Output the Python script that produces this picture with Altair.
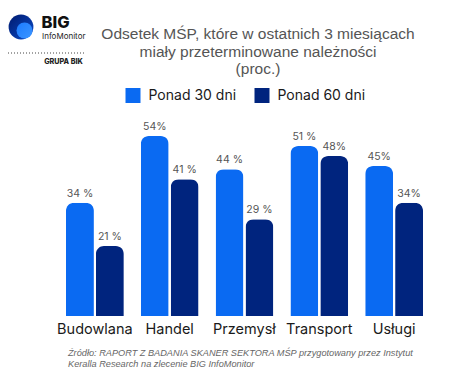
import altair as alt
import pandas as pd

# Share of SMEs with overdue receivables, by sector
categories = ["Budowlana", "Handel", "Przemysł", "Transport", "Usługi"]
series = ["Ponad 30 dni", "Ponad 60 dni"]
over_30 = [34, 54, 44, 51, 45]
over_60 = [21, 41, 29, 48, 34]
# spacing between number and percent sign as printed on each label
sep_30 = [" ", "", " ", " ", ""]
sep_60 = [" ", " ", " ", "", ""]

colors = ["#0A6AF2", "#00247E"]

title_lines = [
    "Odsetek MŚP, które w ostatnich 3 miesiącach",
    "miały przeterminowane należności",
    "(proc.)",
]
source_lines = [
    "Źródło: RAPORT Z BADANIA SKANER SEKTORA MŚP przygotowany przez Instytut",
    "Keralla Research na zlecenie BIG InfoMonitor",
]

rows = []
for i, c in enumerate(categories):
    rows.append({"cat": c, "series": series[0], "value": over_30[i],
                 "label": f"{over_30[i]}{sep_30[i]}%"})
    rows.append({"cat": c, "series": series[1], "value": over_60[i],
                 "label": f"{over_60[i]}{sep_60[i]}%"})
df = pd.DataFrame(rows)

# plot area origin inside the page
OX, OY = 57.5, 136
W, H = 374, 180

x_enc = alt.X("cat:N", sort=categories,
              scale=alt.Scale(paddingInner=0.227, paddingOuter=0.1135),
              axis=alt.Axis(title=None, labelAngle=0, domain=False, ticks=False,
                            labelFontSize=14.5, labelFont="Inter", labelColor="#1a1a1a",
                            labelPadding=6, labelFontWeight="normal"))
xo_enc = alt.XOffset("series:N", sort=series,
                     scale=alt.Scale(paddingInner=0.0667, paddingOuter=0))
y_enc = alt.Y("value:Q", scale=alt.Scale(domain=[0, 54], nice=False), axis=None)

bars = alt.Chart(df).mark_bar(cornerRadiusTopLeft=8, cornerRadiusTopRight=8).encode(
    x=x_enc, xOffset=xo_enc, y=y_enc,
    color=alt.Color("series:N", sort=series,
                    scale=alt.Scale(domain=series, range=colors),
                    legend=alt.Legend(orient="none", legendX=68, legendY=-48,
                                      direction="horizontal", title=None,
                                      symbolType="square", symbolSize=225,
                                      symbolStrokeWidth=0, symbolOpacity=1,
                                      labelFontSize=14, labelFont="Inter",
                                      labelColor="#1a1a1a", labelOffset=8,
                                      columnPadding=18, labelLimit=200)),
)

labels = alt.Chart(df).mark_text(baseline="bottom", dy=-4, fontSize=10.5,
                                 font="Inter", color="#555555").encode(
    x=x_enc, xOffset=xo_enc, y=y_enc, text="label:N",
)

one = pd.DataFrame({"k": [0]})


def txt(s, x, y, **kw):
    return alt.Chart(one).mark_text(**kw).encode(
        x=alt.value(x - OX), y=alt.value(y - OY), text=alt.value(s))


layers = [bars, labels]

# chart title
for i, line in enumerate(title_lines):
    layers.append(txt(line, 258, 39 + i * 17.5, fontSize=15.5, font="Liberation Sans",
                      color="#555555", align="center", baseline="alphabetic"))

# source note
for i, line in enumerate(source_lines):
    layers.append(txt(line, 68, 355.5 + i * 11, fontSize=9.2, font="Liberation Sans",
                      fontStyle="italic", color="#666666", align="left",
                      baseline="alphabetic"))

# logo: two-tone disc with wordmark
outer = alt.Chart(one).mark_circle(
    size=615, opacity=1,
    color=alt.Gradient(gradient="linear",
                       stops=[alt.GradientStop(color="#001A6E", offset=0),
                              alt.GradientStop(color="#0B4CC9", offset=1)],
                       x1=0, y1=0, x2=1, y2=1)).encode(
    x=alt.value(21 - OX), y=alt.value(27 - OY))
inner = alt.Chart(one).mark_circle(
    size=255, opacity=1,
    color=alt.Gradient(gradient="linear",
                       stops=[alt.GradientStop(color="#1C7BFF", offset=0),
                              alt.GradientStop(color="#3B95FF", offset=1)],
                       x1=0, y1=0, x2=1, y2=1)).encode(
    x=alt.value(24.5 - OX), y=alt.value(30.5 - OY))
layers += [outer, inner]
layers.append(txt("BIG", 41.5, 28, fontSize=16.5, font="Inter", fontWeight=800,
                  color="#111111", align="left", baseline="alphabetic"))
layers.append(txt("InfoMonitor", 42, 38.5, fontSize=8, font="Inter",
                  color="#222222", align="left", baseline="alphabetic"))
dots = alt.Chart(one).mark_rule(strokeDash=[1, 2], color="#444444", strokeWidth=1).encode(
    x=alt.value(8 - OX), x2=alt.value(86 - OX), y=alt.value(53 - OY))
layers.append(dots)
layers.append(txt("GRUPA BIK", 63.5, 64, fontSize=7.2, font="Inter", fontWeight=800,
                  color="#222222", align="center", baseline="alphabetic"))

chart = alt.layer(*layers).properties(
    width=W, height=H,
    autosize=alt.AutoSizeParams(type="none"),
    padding={"left": OX, "top": OY, "right": 452 - OX - W, "bottom": 374 - OY - H},
    background="white",
).configure_view(stroke=None)

chart.save("out.html", embed_options={"renderer": "svg", "actions": False})
